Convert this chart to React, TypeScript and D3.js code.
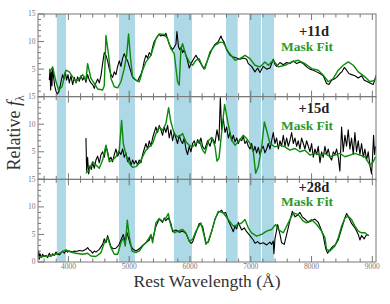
import React from 'react';
import * as d3 from 'd3';

// masked wavelength windows (Angstrom)
const maskBands: [number, number][] = [
  [3810, 3960], [4832, 5095], [5737, 6033], [6592, 6784], [6970, 7168], [7184, 7382],
];

const epochs = ['+11d', '+15d', '+28d'];
const fitLabel = 'Mask Fit';

const xTicksMajor = [4000, 5000, 6000, 7000, 8000, 9000];
const yTickLabels = [[5, 10, 15], [5, 10, 15], [0, 5, 10, 15]];

// +11d
const obs11: [number, number][] = [
  [3686,3.0],[3697,5.0],[3708,1.2],[3719,4.5],[3730,2.0],[3741,5.2],[3757,3.5],[3774,2.0],[3796,1.0],[3818,0.5],
  [3840,0.8],[3862,1.8],[3884,3.0],[3905,4.0],[3927,3.2],[3949,4.5],[3971,3.0],[3993,4.0],[4015,2.5],[4042,3.8],
  [4070,2.2],[4097,3.5],[4125,2.5],[4152,3.6],[4179,2.8],[4207,3.8],[4234,3.0],[4262,3.6],[4289,2.6],[4316,4.0],
  [4344,3.0],[4371,2.5],[4399,2.2],[4426,1.5],[4453,2.5],[4481,3.2],[4508,2.5],[4536,3.8],[4563,6.0],[4590,8.0],
  [4618,7.5],[4645,6.5],[4673,5.0],[4700,4.0],[4727,3.5],[4755,4.5],[4782,4.0],[4810,5.5],[4837,6.5],[4864,5.5],
  [4892,7.0],[4919,7.8],[4947,7.0],[4974,6.5],[5001,5.5],[5029,4.5],[5056,3.5],[5084,3.2],[5111,3.0],[5138,2.8],
  [5166,3.5],[5193,4.0],[5221,5.0],[5248,6.5],[5275,7.5],[5303,7.0],[5330,8.0],[5358,7.5],[5385,9.0],[5412,10.0],
  [5440,10.5],[5467,11.0],[5494,11.3],[5522,11.0],[5549,11.2],[5577,11.0],[5604,11.5],[5632,10.5],[5659,9.5],[5686,9.0],
  [5714,8.5],[5741,9.0],[5769,9.5],[5785,11.8],[5812,9.0],[5834,8.5],[5856,9.0],[5878,8.0],[5906,8.5],[5933,7.5],
  [5960,6.5],[5988,5.2],[6015,6.0],[6043,6.5],[6070,7.0],[6097,7.5],[6125,7.0],[6152,6.5],[6180,6.0],[6207,5.5],
  [6234,5.0],[6247,5.5],[6302,7.0],[6357,8.5],[6411,9.5],[6466,10.0],[6510,11.0],[6532,10.4],[6565,9.8],[6603,8.5],
  [6658,7.5],[6713,7.2],[6768,7.0],[6822,6.8],[6877,7.0],[6932,6.8],[6959,6.0],[7014,5.5],[7069,4.5],[7113,5.2],
  [7151,4.4],[7206,5.5],[7261,5.0],[7316,5.2],[7370,6.8],[7398,5.8],[7425,5.5],[7480,6.2],[7535,5.8],[7590,6.2],
  [7644,6.0],[7699,6.5],[7754,6.0],[7809,6.3],[7864,6.0],[7918,5.4],[7973,5.0],[8028,4.8],[8083,4.5],[8138,4.2],
  [8192,3.8],[8247,2.4],[8286,2.2],[8330,3.0],[8373,3.2],[8412,3.5],[8466,4.2],[8505,4.6],[8538,5.3],[8576,4.8],
  [8614,4.2],[8658,4.0],[8713,3.8],[8768,3.4],[8823,3.8],[8866,3.0],[8905,2.8],[8960,2.5],[9014,2.2],[9053,3.5],
];
const fit11: [number, number][] = [
  [3686,4.2],[3741,5.4],[3796,2.7],[3840,1.2],[3894,1.8],[3960,4.8],[4015,4.5],[4070,3.6],[4125,2.7],[4179,3.3],
  [4234,4.0],[4289,3.0],[4316,6.0],[4371,3.3],[4426,2.4],[4481,1.4],[4563,1.2],[4590,2.0],[4618,11.1],[4662,7.5],
  [4700,3.3],[4755,1.8],[4810,1.6],[4864,2.7],[4919,5.1],[4958,7.5],[4990,11.4],[5023,6.9],[5056,3.6],[5111,3.0],
  [5166,2.7],[5221,4.8],[5275,6.3],[5358,7.5],[5440,10.5],[5494,11.4],[5577,11.3],[5632,10.5],[5686,8.7],[5741,7.8],
  [5796,2.7],[5823,2.1],[5851,8.7],[5878,9.6],[5933,7.5],[5988,6.3],[6043,5.7],[6097,6.6],[6152,6.9],[6207,5.4],
  [6247,5.1],[6329,8.1],[6411,9.3],[6494,9.9],[6548,9.8],[6631,8.1],[6740,6.6],[6822,6.9],[6905,7.5],[6987,6.9],
  [7069,5.7],[7151,5.4],[7233,6.3],[7288,5.7],[7370,6.6],[7453,5.4],[7562,5.7],[7672,6.3],[7781,6.6],[7891,6.0],
  [8001,5.1],[8110,4.8],[8192,3.9],[8275,2.7],[8357,3.3],[8439,4.8],[8521,5.7],[8603,6.3],[8686,5.7],[8768,4.5],
  [8877,3.6],[8960,2.7],[9042,3.0],[9060,3.9],
];

// +15d
const obs15: [number, number][] = [
  [4289,7.5],[4300,1.5],[4316,4.0],[4333,1.0],[4355,2.5],[4377,1.8],[4399,3.0],[4426,2.0],[4453,3.5],[4481,4.2],
  [4508,3.0],[4536,4.5],[4563,5.0],[4590,4.0],[4618,6.0],[4645,5.0],[4673,3.5],[4700,4.0],[4727,3.2],[4755,4.5],
  [4782,5.5],[4810,4.2],[4837,5.0],[4864,4.5],[4892,5.5],[4919,4.0],[4947,4.8],[4974,3.2],[5001,4.0],[5029,2.5],
  [5056,3.5],[5084,2.8],[5111,3.4],[5138,2.6],[5166,3.5],[5193,3.0],[5221,4.5],[5248,5.5],[5275,6.5],[5303,5.5],
  [5330,7.0],[5358,6.0],[5385,7.5],[5412,8.5],[5440,9.5],[5467,8.5],[5494,9.8],[5522,9.0],[5549,8.0],[5577,9.5],
  [5604,8.5],[5632,9.8],[5659,7.5],[5686,9.0],[5714,7.0],[5741,8.5],[5769,7.5],[5796,6.5],[5823,8.0],[5851,7.0],
  [5878,6.5],[5906,7.5],[5933,5.5],[5960,4.5],[5988,6.0],[6015,5.0],[6043,6.5],[6070,7.0],[6097,6.0],[6125,7.2],
  [6152,6.5],[6180,7.5],[6207,6.0],[6234,5.5],[6247,5.5],[6291,7.0],[6329,6.0],[6368,7.5],[6411,6.5],[6444,9.0],
  [6477,7.0],[6499,14.8],[6521,9.0],[6548,11.0],[6576,8.5],[6603,9.5],[6631,7.5],[6658,8.5],[6685,7.0],[6713,8.0],
  [6740,6.8],[6768,7.5],[6795,6.5],[6822,7.3],[6850,7.0],[6877,7.8],[6905,6.5],[6932,7.0],[6959,6.0],[6987,5.5],
  [7014,6.5],[7042,5.0],[7069,6.0],[7096,4.8],[7124,5.8],[7151,4.5],[7179,5.5],[7206,6.0],[7233,4.8],[7261,5.5],
  [7288,6.5],[7316,5.5],[7343,7.0],[7370,8.5],[7398,6.5],[7425,7.5],[7453,5.5],[7480,7.0],[7507,6.0],[7535,8.0],
  [7562,6.0],[7590,7.5],[7617,6.0],[7644,7.0],[7672,8.5],[7699,6.5],[7727,7.5],[7754,6.0],[7781,7.0],[7809,5.5],
  [7836,7.5],[7864,6.5],[7891,5.5],[7918,7.0],[7946,6.0],[7973,5.0],[8001,6.5],[8028,4.0],[8055,5.5],[8083,4.5],
  [8110,6.0],[8138,3.0],[8165,5.0],[8192,4.0],[8220,6.0],[8247,4.5],[8275,5.5],[8302,4.0],[8330,3.5],[8357,5.0],
  [8384,4.5],[8412,5.5],[8439,4.0],[8466,1.5],[8494,9.5],[8521,5.0],[8549,8.0],[8576,6.0],[8603,9.0],[8631,5.5],
  [8658,7.5],[8686,4.5],[8713,8.5],[8740,5.0],[8768,7.0],[8795,4.5],[8823,6.5],[8850,4.0],[8877,5.5],[8905,3.5],
  [8932,5.0],[8960,2.5],[8987,1.0],[9003,4.0],[9020,8.0],[9036,4.5],[9053,6.0],
];
const fit15: [number, number][] = [
  [4289,1.1],[4344,1.7],[4399,3.2],[4453,2.6],[4508,2.0],[4563,3.5],[4618,6.2],[4645,4.7],[4673,3.2],[4727,3.5],
  [4782,4.1],[4837,5.3],[4875,10.7],[4903,6.5],[4947,4.4],[5001,2.9],[5056,2.2],[5111,2.3],[5166,2.9],[5221,4.1],
  [5275,5.3],[5330,5.9],[5385,6.5],[5440,8.3],[5494,9.5],[5549,8.9],[5604,10.1],[5648,13.0],[5686,10.4],[5741,8.3],
  [5796,7.7],[5851,8.0],[5878,8.3],[5933,6.8],[5988,6.2],[6043,5.9],[6097,6.5],[6152,7.1],[6207,5.3],[6247,4.7],
  [6302,7.0],[6357,7.6],[6411,6.0],[6444,3.3],[6477,3.8],[6521,8.5],[6570,13.6],[6620,10.5],[6685,7.1],[6740,6.2],
  [6795,6.8],[6877,8.0],[6932,7.4],[6987,6.5],[7042,5.0],[7080,1.1],[7124,2.3],[7179,5.9],[7223,10.4],[7261,8.9],
  [7316,6.5],[7398,5.9],[7480,6.2],[7562,5.9],[7644,5.3],[7727,5.6],[7809,5.0],[7891,5.3],[7973,4.4],[8055,4.7],
  [8138,4.4],[8220,4.7],[8302,4.1],[8384,4.4],[8466,4.7],[8549,4.1],[8631,4.4],[8713,4.7],[8795,4.4],[8877,4.1],
  [8960,2.6],[9014,3.2],[9053,4.1],
];

// +28d
const obs28: [number, number][] = [
  [3500,0.8],[3511,2.0],[3522,0.5],[3533,1.5],[3555,0.8],[3577,1.4],[3604,1.0],[3631,1.2],[3659,0.8],[3686,1.6],
  [3714,1.0],[3741,1.5],[3768,1.2],[3796,1.8],[3823,1.4],[3851,1.3],[3878,1.6],[3905,2.0],[3933,1.6],[3960,2.1],
  [3988,1.8],[4015,2.0],[4070,1.8],[4097,2.0],[4125,1.9],[4179,2.1],[4234,2.0],[4289,2.3],[4316,2.6],[4344,2.2],
  [4371,2.0],[4399,1.6],[4426,2.0],[4453,1.8],[4508,2.3],[4563,3.2],[4590,4.2],[4618,3.5],[4645,4.8],[4673,3.8],
  [4700,2.8],[4738,2.4],[4782,2.5],[4826,3.0],[4864,4.0],[4903,5.0],[4936,3.5],[4958,5.5],[4985,4.5],[5018,3.2],
  [5056,2.4],[5111,2.0],[5166,2.4],[5221,3.0],[5275,3.5],[5330,4.0],[5358,4.8],[5385,4.0],[5440,6.5],[5494,7.8],
  [5549,7.2],[5577,8.0],[5604,7.5],[5643,8.0],[5686,7.0],[5714,5.5],[5769,5.8],[5823,5.4],[5878,5.6],[5933,5.2],
  [5988,3.8],[6015,3.4],[6043,3.6],[6097,5.3],[6152,7.0],[6207,6.5],[6234,5.0],[6262,3.5],[6302,3.6],[6357,5.5],
  [6411,7.8],[6466,9.0],[6521,9.4],[6548,8.8],[6586,9.0],[6631,7.5],[6674,6.5],[6713,5.5],[6740,6.5],[6768,6.0],
  [6795,7.2],[6822,6.5],[6850,5.8],[6893,6.2],[6932,5.5],[6987,4.8],[7042,4.0],[7069,3.4],[7113,3.7],[7151,3.3],
  [7206,3.5],[7261,3.1],[7316,3.6],[7343,3.2],[7370,3.8],[7381,1.5],[7398,4.2],[7442,6.8],[7480,5.0],[7507,3.5],
  [7551,3.2],[7590,5.0],[7644,7.5],[7683,9.2],[7727,8.2],[7770,8.5],[7809,9.0],[7847,8.2],[7891,7.8],[7946,7.2],
  [8001,7.5],[8055,7.8],[8110,7.2],[8154,6.0],[8192,4.8],[8231,2.5],[8264,1.6],[8302,2.2],[8346,2.8],[8395,3.2],
  [8439,4.0],[8494,6.0],[8549,8.0],[8576,8.8],[8603,8.3],[8658,7.0],[8713,6.2],[8768,5.0],[8795,4.0],[8823,4.8],
  [8866,4.2],[8905,5.0],[8943,4.8],
];
const fit28: [number, number][] = [
  [3500,0.8],[3577,1.0],[3686,1.1],[3796,1.4],[3878,1.7],[3960,2.2],[4042,1.8],[4125,1.6],[4234,1.4],[4316,1.6],
  [4371,1.1],[4453,1.0],[4536,1.7],[4590,3.5],[4645,4.4],[4700,2.6],[4755,1.4],[4810,1.4],[4864,3.5],[4903,4.4],
  [4936,2.9],[4969,7.6],[5001,4.7],[5045,2.0],[5111,1.7],[5166,2.0],[5221,2.9],[5275,3.5],[5330,4.4],[5358,5.0],
  [5385,3.5],[5440,7.1],[5494,7.9],[5549,7.4],[5604,8.0],[5643,8.8],[5686,6.5],[5741,5.3],[5796,5.6],[5878,5.9],
  [5933,5.3],[5988,3.8],[6043,4.1],[6097,5.6],[6180,7.1],[6234,4.7],[6262,3.2],[6302,3.8],[6357,5.6],[6411,7.7],
  [6466,9.2],[6548,8.9],[6631,7.7],[6713,6.5],[6795,6.8],[6850,7.1],[6905,7.7],[6959,6.2],[7014,5.3],[7096,4.7],
  [7179,5.0],[7261,5.6],[7343,5.9],[7409,6.8],[7453,5.9],[7535,5.3],[7617,7.1],[7699,8.9],[7781,8.6],[7864,7.4],
  [7918,7.1],[8001,7.7],[8083,6.8],[8165,5.6],[8220,4.4],[8247,2.3],[8302,2.0],[8384,2.9],[8439,4.4],[8494,6.5],
  [8549,8.0],[8603,8.3],[8658,7.7],[8713,6.5],[8768,5.6],[8823,5.3],[8877,5.3],[8932,4.8],
];

const observed = [obs11, obs15, obs28];
const fits = [fit11, fit15, fit28];

const W = 390, H = 304;
const L = 38, R = 376, T0 = 14, PH = 82.67;
const labelPos = [[22, 37], [16.6, 33.3], [12.7, 27]];
const serif = 'Liberation Serif, DejaVu Serif, serif';

export default function App() {
  const x = d3.scaleLinear().domain([3500, 9060]).range([L, R]);
  const minor = d3.range(3600, 9001, 200);
  const yMinor = d3.range(0, 16, 1);

  return (
    <svg width={W} height={H} style={{ position: 'absolute', left: 0, top: 0, background: '#fff', fontFamily: serif }}>
      <defs>
        {epochs.map((e, i) => (
          <clipPath id={`clip${i}`} key={e}>
            <rect x={L} y={T0 + i * PH} width={R - L} height={PH} />
          </clipPath>
        ))}
      </defs>
      {epochs.map((e, i) => {
        const top = T0 + i * PH;
        const y = d3.scaleLinear().domain([0, 15]).range([top + PH, top]);
        const line = d3.line<[number, number]>().x(d => x(d[0])).y(d => y(d[1]));
        return (
          <g key={e}>
            {maskBands.map(([a, b], j) => (
              <rect key={j} x={x(a)} y={top} width={x(b) - x(a)} height={PH} fill="#add8e6" />
            ))}
            <g clipPath={`url(#clip${i})`}>
              <path d={line(observed[i]) || ''} fill="none" stroke="#000" strokeWidth={1.1} strokeLinejoin="round" />
              <path d={line(fits[i]) || ''} fill="none" stroke="#0a8a0a" strokeWidth={1.4} strokeLinejoin="round" />
            </g>
            {minor.map(t => {
              const len = t % 1000 === 0 ? 6 : 3.5;
              return (
                <g key={t} stroke="#555" strokeWidth={0.8}>
                  <line x1={x(t)} x2={x(t)} y1={top + PH} y2={top + PH - len} />
                  <line x1={x(t)} x2={x(t)} y1={top} y2={top + len} />
                </g>
              );
            })}
            {yMinor.map(v => {
              const len = v % 5 === 0 ? 6 : 3;
              return (
                <line key={v} x1={L} x2={L + len} y1={y(v)} y2={y(v)} stroke="#555" strokeWidth={0.8} />
              );
            })}
            {yTickLabels[i].map(v => (
              <text key={v} x={L - 2.5} y={y(v)} dy="0.33em" textAnchor="end" fontSize={7.5} fill="#777">{v}</text>
            ))}
            <rect x={L} y={top} width={R - L} height={PH} fill="none" stroke="#777" strokeWidth={1} />
            <text x={314} y={top + labelPos[i][0]} textAnchor="middle" fontWeight="bold" fontSize={14.5} fill="#222">{e}</text>
            <text x={307} y={top + labelPos[i][1]} textAnchor="middle" fontWeight="bold" fontSize={13.5} fill="#2a9a2a">{fitLabel}</text>
          </g>
        );
      })}
      {xTicksMajor.map(t => (
        <text key={t} x={x(t)} y={269} textAnchor="middle" fontSize={7.5} fill="#777">{t}</text>
      ))}
      <text x={207} y={287} textAnchor="middle" fontSize={17.5} fill="#333">Rest Wavelength (Å)</text>
      <text transform="translate(20,133) rotate(-90)" textAnchor="middle" fontSize={18} fill="#333">
        Relative <tspan fontStyle="italic">f</tspan><tspan fontSize={11.5} dy={4}>λ</tspan>
      </text>
    </svg>
  );
}
